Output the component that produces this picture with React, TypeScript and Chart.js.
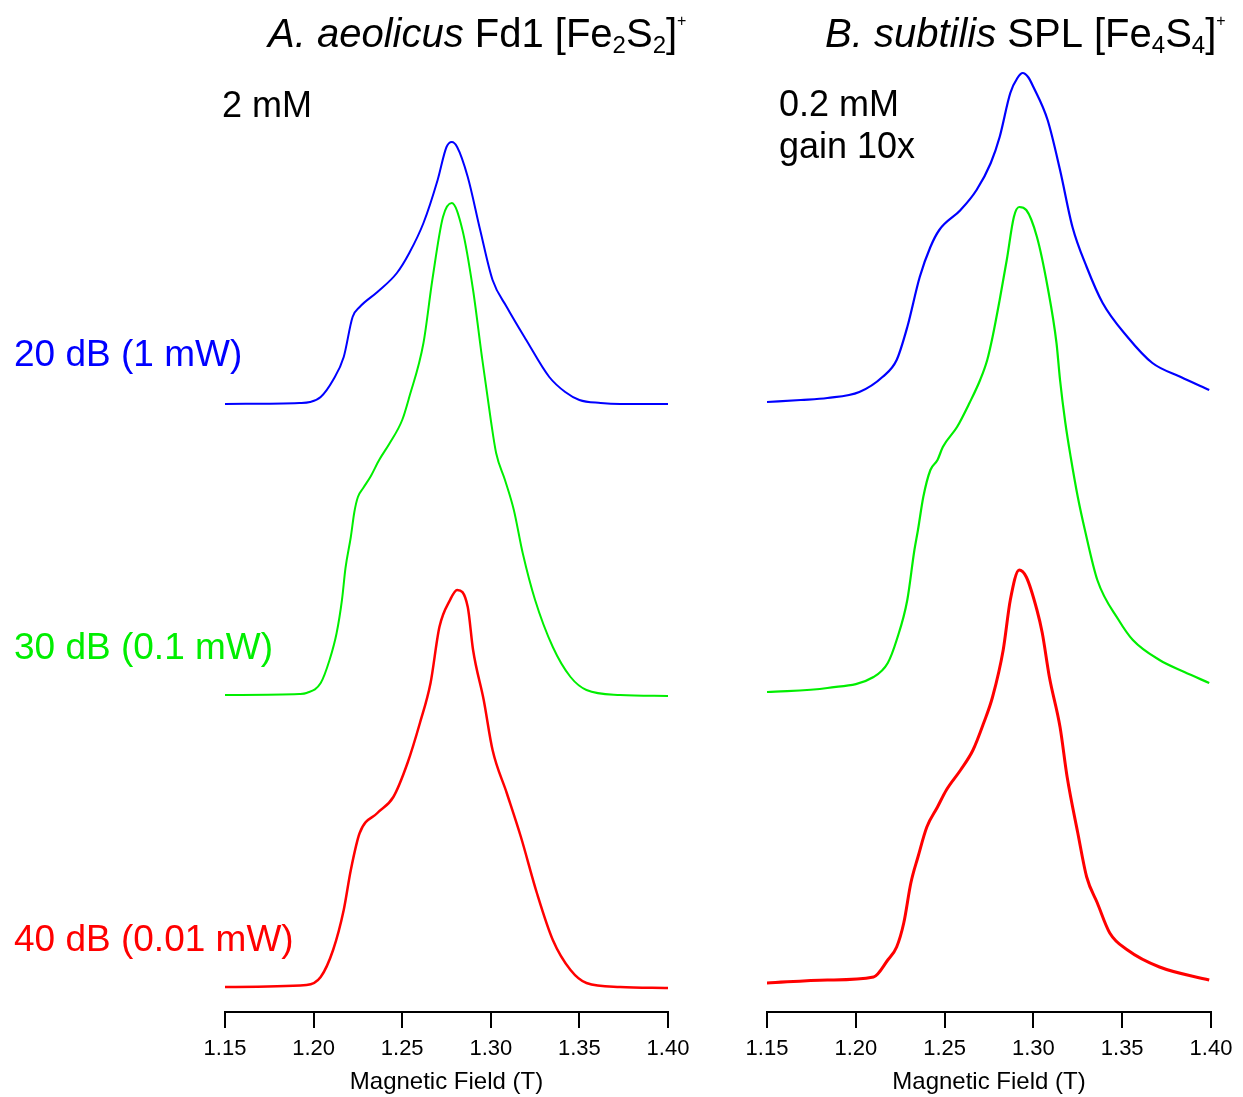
import React, { useEffect, useRef } from 'react';
import { Chart, registerables } from 'chart.js';

Chart.register(...registerables);

// ---------- data ----------
const xTickValues = [1.15, 1.2, 1.25, 1.3, 1.35, 1.4];
const axisTitle = 'Magnetic Field (T)';

const powerLabels = ['20 dB (1 mW)', '30 dB (0.1 mW)', '40 dB (0.01 mW)'];
const traceColors = ['#0000ff', '#00ee00', '#ff0000'];

// A. aeolicus Fd1 [Fe2S2]+  (field in T, signal in a.u.)
const aeField20 = [1.150, 1.192, 1.198, 1.204, 1.211, 1.217, 1.222, 1.226, 1.236, 1.247, 1.254, 1.262, 1.270, 1.275, 1.278, 1.281, 1.287, 1.294, 1.301, 1.309, 1.320, 1.333, 1.342, 1.350, 1.362, 1.373, 1.400];
const aeSig20 = [0, 1, 2, 7, 24, 47, 87, 97, 112, 131, 151, 181, 224, 257, 262, 257, 227, 174, 124, 97, 64, 27, 12, 4, 1, 0, 0];

const aeField30 = [1.150, 1.192, 1.196, 1.204, 1.209, 1.213, 1.216, 1.218, 1.221, 1.223, 1.225, 1.228, 1.232, 1.237, 1.243, 1.250, 1.254, 1.262, 1.267, 1.273, 1.278, 1.284, 1.290, 1.295, 1.300, 1.303, 1.308, 1.313, 1.318, 1.325, 1.335, 1.345, 1.354, 1.373, 1.400];
const aeSig30 = [0, 1, 2, 12, 35, 62, 95, 127, 158, 183, 198, 207, 218, 235, 252, 275, 298, 352, 415, 478, 492, 465, 405, 338, 275, 242, 215, 185, 142, 95, 48, 18, 5, 0, -1];

const aeField40 = [1.150, 1.196, 1.204, 1.211, 1.217, 1.221, 1.226, 1.236, 1.245, 1.253, 1.260, 1.266, 1.271, 1.277, 1.281, 1.287, 1.290, 1.296, 1.301, 1.309, 1.317, 1.326, 1.335, 1.345, 1.354, 1.373, 1.400];
const aeSig40 = [0, 2, 10, 37, 77, 117, 154, 174, 190, 224, 264, 304, 360, 387, 397, 380, 337, 287, 237, 194, 150, 94, 47, 17, 4, 0, -1];

const aeOffsets = [608, 317, 25];

// B. subtilis SPL [Fe4S4]+
const bsField20 = [1.150, 1.169, 1.184, 1.202, 1.215, 1.223, 1.229, 1.236, 1.242, 1.247, 1.259, 1.268, 1.276, 1.281, 1.287, 1.291, 1.294, 1.297, 1.300, 1.308, 1.315, 1.322, 1.330, 1.339, 1.353, 1.367, 1.383, 1.399];
const bsSig20 = [0, 2, 4, 10, 25, 42, 75, 125, 155, 172, 192, 212, 239, 265, 309, 324, 329, 325, 315, 282, 232, 175, 135, 99, 65, 39, 25, 12];

const bsField30 = [1.150, 1.184, 1.210, 1.218, 1.223, 1.229, 1.233, 1.235, 1.238, 1.242, 1.246, 1.249, 1.257, 1.264, 1.270, 1.274, 1.277, 1.281, 1.285, 1.289, 1.292, 1.296, 1.302, 1.308, 1.313, 1.315, 1.318, 1.321, 1.325, 1.329, 1.336, 1.348, 1.356, 1.371, 1.385, 1.399];
const bsSig30 = [-2, 2, 13, 27, 50, 90, 140, 160, 193, 220, 230, 243, 263, 287, 310, 330, 353, 390, 430, 473, 483, 480, 453, 403, 347, 310, 267, 233, 193, 160, 110, 70, 50, 30, 18, 7];

const bsField40 = [1.150, 1.184, 1.210, 1.218, 1.223, 1.227, 1.231, 1.235, 1.240, 1.246, 1.251, 1.259, 1.266, 1.272, 1.277, 1.283, 1.287, 1.292, 1.296, 1.302, 1.305, 1.309, 1.315, 1.319, 1.325, 1.330, 1.336, 1.343, 1.353, 1.371, 1.399];
const bsSig40 = [-1, 2, 5, 22, 35, 59, 99, 125, 155, 175, 192, 212, 232, 259, 285, 332, 382, 412, 405, 372, 349, 305, 255, 205, 149, 105, 79, 49, 32, 15, 2];

const bsOffsets = [610, 322, 30];

const Y_MAX = 952;

// ---------- drawing helpers ----------
const FONT = '"Liberation Sans", Arial, Helvetica, sans-serif';

type Part = { t: string; size: number; italic?: boolean; dy?: number };
type Label = { x: number; y: number; color: string; parts: Part[] };

function drawParts(ctx: CanvasRenderingContext2D, lab: Label, dx: number) {
  ctx.save();
  ctx.fillStyle = lab.color;
  ctx.textBaseline = 'alphabetic';
  ctx.textAlign = 'left';
  let cx = lab.x - dx;
  for (const p of lab.parts) {
    ctx.font = `${p.italic ? 'italic ' : ''}${p.size}px ${FONT}`;
    ctx.fillText(p.t, cx, lab.y + (p.dy || 0));
    cx += ctx.measureText(p.t).width;
  }
  ctx.restore();
}

type Series = { field: number[]; sig: number[]; off: number; color: string; width: number };

function Panel(props: {
  left: number;
  width: number;
  padLeft: number;
  padRight: number;
  series: Series[];
  labels: Label[];
}) {
  const ref = useRef<HTMLCanvasElement | null>(null);
  useEffect(() => {
    const canvas = ref.current;
    if (!canvas) return;
    const textPlugin = {
      id: 'panelText',
      afterDraw(chart: any) {
        const ctx = chart.ctx as CanvasRenderingContext2D;
        for (const lab of props.labels) drawParts(ctx, lab, props.left);
      },
    };
    const chart = new Chart(canvas, {
      type: 'line',
      data: {
        datasets: props.series.map((s) => ({
          data: s.field.map((f, i) => ({ x: f, y: s.sig[i] + s.off })),
          borderColor: s.color,
          backgroundColor: s.color,
          borderWidth: s.width,
          pointRadius: 0,
          fill: false,
          cubicInterpolationMode: 'monotone' as const,
        })),
      },
      options: {
        animation: false,
        responsive: false,
        maintainAspectRatio: false,
        layout: { padding: { left: props.padLeft, right: props.padRight, top: 60, bottom: 0 } },
        plugins: { legend: { display: false }, tooltip: { enabled: false } },
        scales: {
          x: {
            type: 'linear',
            min: 1.15,
            max: 1.4,
            afterBuildTicks: (s: any) => {
              s.ticks = xTickValues.map((v) => ({ value: v }));
            },
            afterFit: (s: any) => {
              s.height = 85;
            },
            ticks: {
              callback: (v: any) => Number(v).toFixed(2),
              font: { family: FONT, size: 22 },
              color: '#000',
              padding: 8,
              maxRotation: 0,
              autoSkip: false,
            },
            grid: {
              display: true,
              drawOnChartArea: false,
              drawTicks: true,
              tickLength: 16,
              color: '#000',
              lineWidth: 2,
            },
            border: { display: true, color: '#000', width: 2 },
            title: {
              display: true,
              text: axisTitle,
              font: { family: FONT, size: 24 },
              color: '#000',
              padding: { top: 0, bottom: 0 },
            },
          },
          y: { display: false, min: 0, max: Y_MAX },
        },
      },
      plugins: [textPlugin],
    } as any);
    return () => chart.destroy();
  }, []);
  return (
    <canvas
      ref={ref}
      width={props.width}
      height={1097}
      style={{ position: 'absolute', left: props.left, top: 0, width: props.width, height: 1097 }}
    />
  );
}

export default function App() {
  const aeSeries: Series[] = [
    { field: aeField20, sig: aeSig20, off: aeOffsets[0], color: traceColors[0], width: 2 },
    { field: aeField30, sig: aeSig30, off: aeOffsets[1], color: traceColors[1], width: 2 },
    { field: aeField40, sig: aeSig40, off: aeOffsets[2], color: traceColors[2], width: 2.5 },
  ];
  const bsSeries: Series[] = [
    { field: bsField20, sig: bsSig20, off: bsOffsets[0], color: traceColors[0], width: 2.2 },
    { field: bsField30, sig: bsSig30, off: bsOffsets[1], color: traceColors[1], width: 2.2 },
    { field: bsField40, sig: bsSig40, off: bsOffsets[2], color: traceColors[2], width: 3 },
  ];
  const leftLabels: Label[] = [
    {
      x: 268, y: 47, color: '#000',
      parts: [
        { t: 'A. aeolicus', size: 40, italic: true },
        { t: ' Fd1 [Fe', size: 40 },
        { t: '2', size: 24, dy: 6 },
        { t: 'S', size: 40 },
        { t: '2', size: 24, dy: 6 },
        { t: ']', size: 40 },
        { t: '+', size: 16, dy: -21 },
      ],
    },
    { x: 222, y: 117, color: '#000', parts: [{ t: '2 mM', size: 36 }] },
    { x: 14, y: 366, color: traceColors[0], parts: [{ t: powerLabels[0], size: 37 }] },
    { x: 14, y: 659, color: traceColors[1], parts: [{ t: powerLabels[1], size: 37 }] },
    { x: 14, y: 951, color: traceColors[2], parts: [{ t: powerLabels[2], size: 37 }] },
  ];
  const rightLabels: Label[] = [
    {
      x: 825, y: 47, color: '#000',
      parts: [
        { t: 'B. subtilis', size: 40, italic: true },
        { t: ' SPL [Fe', size: 40 },
        { t: '4', size: 24, dy: 6 },
        { t: 'S', size: 40 },
        { t: '4', size: 24, dy: 6 },
        { t: ']', size: 40 },
        { t: '+', size: 16, dy: -21 },
      ],
    },
    { x: 779, y: 116, color: '#000', parts: [{ t: '0.2 mM', size: 36 }] },
    { x: 779, y: 158, color: '#000', parts: [{ t: 'gain 10x', size: 36 }] },
  ];
  return (
    <div style={{ position: 'absolute', left: 0, top: 0, width: 1243, height: 1097, background: '#fff' }}>
      <Panel left={0} width={700} padLeft={225} padRight={32} series={aeSeries} labels={leftLabels} />
      <Panel left={700} width={543} padLeft={67} padRight={32} series={bsSeries} labels={rightLabels} />
    </div>
  );
}
